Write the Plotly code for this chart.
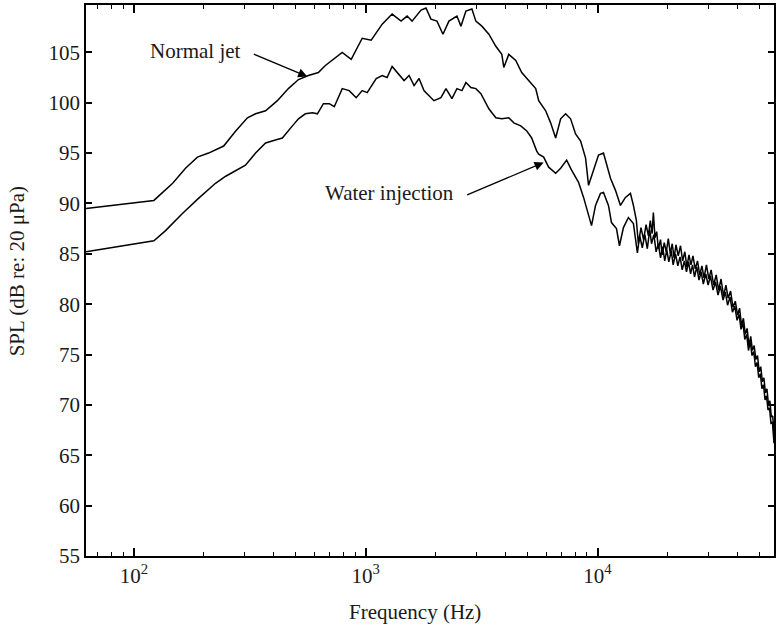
import plotly.graph_objects as go

# ---- data ----
normal_freq = [62.2, 122, 147, 167, 188, 210, 244, 275, 309, 335, 370, 416, 464, 513, 566, 625, 670,
               697, 739, 792, 866, 966, 1056, 1178, 1300, 1421, 1509, 1585, 1733, 1820, 1912, 2030,
               2154, 2286, 2475, 2575, 2706, 2872, 2987, 3170, 3399, 3642, 3865, 3943, 4142, 4440,
               4710, 5050, 5413, 5576, 5976, 6277, 6598, 6934, 7285, 7654, 8041, 8454, 8882, 9148,
               9612, 10100, 10612, 10932, 11375, 11953, 12558, 13194, 13870, 14285, 14714,
               15000, 15400, 15800, 16200, 16574, 16900, 17200, 17414, 17700, 18000, 18300, 18700,
               19000, 19400, 19800, 20200, 20606, 21000, 21400, 21800, 22300, 22800, 23300, 23800,
               24300, 24800, 25300, 25800, 26400, 27000, 27600, 28200, 28800, 29500, 30200, 30900,
               31700, 32500, 33300, 34100, 35000, 35800, 36600, 37500, 38400, 39300, 40200, 41000,
               41800, 42600, 43400, 44200, 45000, 45800, 46600, 47400, 48200, 49000, 49800, 50600,
               51400, 52200, 53000, 53800, 54600, 55400, 56200, 57000, 57720]
normal_spl = [89.5, 90.3, 92.0, 93.5, 94.6, 95.0, 95.7, 97.2, 98.5, 98.9, 99.2, 100.2, 101.4, 102.3,
              102.7, 103.0, 103.7, 104.0, 104.4, 105.0, 104.3, 106.4, 106.2, 107.8, 108.8, 108.1,
              108.6, 108.1, 109.2, 109.4, 108.3, 108.1, 106.8, 108.1, 108.6, 107.6, 109.1, 109.3,
              108.1, 107.6, 106.8, 105.6, 104.8, 103.5, 104.8, 104.2, 103.0, 102.2, 101.4, 100.2,
              99.2, 98.0, 96.5, 98.4, 98.9, 98.4, 96.9, 96.2, 94.5, 91.8, 93.3, 94.8, 95.0, 93.8,
              92.5, 91.3, 89.8, 90.6, 91.0, 89.8, 88.3,
              86.0, 87.6, 86.4, 87.9, 86.8, 88.3, 87.0, 89.1, 86.6, 87.2, 85.5, 86.4,
              84.9, 86.1, 85.2, 86.5, 85.0, 86.0, 84.6, 85.9, 84.8, 85.8, 84.3, 85.2,
              83.7, 84.9, 83.9, 84.8, 83.5, 84.3, 82.9, 83.8, 82.6, 83.9, 82.5, 83.4,
              81.9, 82.9, 81.4, 82.5, 80.8, 81.9, 80.6, 81.3, 79.7, 80.3, 78.9, 79.6,
              77.9, 78.6, 77.0, 77.6, 75.9, 76.8, 75.4, 75.9, 74.5, 74.9, 73.3, 73.8,
              72.3, 72.7, 71.2, 71.6, 70.1, 70.4, 68.8, 68.9, 67.2]

water_freq = [62.2, 122, 137, 162, 190, 225, 249, 275, 303, 335, 370, 408, 437, 483, 513, 549, 589,
              619, 657, 697, 732, 792, 849, 910, 966, 1015, 1110, 1178, 1237, 1300, 1366, 1464,
              1539, 1617, 1699, 1784, 1876, 1970, 2112, 2220, 2355, 2475, 2601, 2706, 2844, 2987,
              3140, 3233, 3399, 3642, 3865, 4142, 4353, 4665, 4950, 5200, 5467, 5576, 5858, 6156,
              6598, 6934, 7358, 7730, 8283, 8707, 9148, 9423, 9804, 10300, 10612, 11150, 11488,
              12072, 12434, 12936, 13590, 14285, 14860,
              15200, 15600, 16000, 16400, 16800, 17100, 17500, 17900, 18300, 18700, 19100, 19500,
              19900, 20300, 20800, 21200, 21700, 22200, 22700, 23200, 23700, 24200, 24700, 25200,
              25700, 26200, 26800, 27400, 28000, 28600, 29300, 30000, 30700, 31500, 32300, 33100,
              33900, 34800, 35600, 36400, 37300, 38200, 39100, 40000, 40800, 41600, 42400, 43200,
              44000, 44800, 45600, 46400, 47200, 48000, 48800, 49600, 50400, 51200, 52000, 52800,
              53600, 54400, 55200, 56000, 56800, 57720]
water_spl = [85.2, 86.3, 87.3, 89.0, 90.5, 92.0, 92.7, 93.3, 93.8, 95.0, 96.0, 96.3, 96.5, 97.7,
             98.4, 98.9, 99.0, 98.9, 99.9, 99.9, 99.6, 101.4, 101.2, 100.5, 101.2, 101.0, 102.4,
             102.7, 102.5, 103.6, 103.0, 102.2, 102.7, 101.7, 102.4, 101.2, 100.7, 100.2, 100.5,
             101.4, 100.4, 101.4, 101.2, 102.0, 101.5, 101.4, 100.9, 100.4, 99.4, 98.5, 98.4, 98.5,
             98.0, 97.7, 97.2, 96.5, 95.2, 94.9, 94.6, 93.6, 93.0, 93.5, 94.3, 93.3, 92.1, 90.6,
             88.8, 87.8, 89.8, 91.0, 91.1, 89.8, 88.1, 87.5, 85.8, 87.6, 88.6, 88.0, 85.1,
             86.8, 85.6, 86.9, 85.5, 87.4, 86.0, 86.9, 85.2, 86.0, 84.6, 85.7, 84.3,
             85.4, 84.2, 85.3, 83.9, 85.0, 83.8, 84.7, 83.4, 84.3, 83.2, 84.2, 83.0,
             83.9, 82.7, 83.7, 82.4, 83.2, 82.0, 83.0, 81.9, 82.8, 81.4, 82.2, 80.9,
             81.8, 80.4, 81.2, 79.9, 80.7, 79.2, 79.8, 78.4, 79.0, 77.5, 78.1, 76.5,
             77.0, 75.4, 76.3, 74.9, 75.3, 73.8, 74.2, 72.7, 73.1, 71.6, 72.0, 70.5,
             70.9, 69.5, 69.7, 68.2, 68.3, 66.2]

y_ticks = [55, 60, 65, 70, 75, 80, 85, 90, 95, 100, 105]
x_ticks = [100, 1000, 10000]
x_tick_text = ["10<sup>2</sup>", "10<sup>3</sup>", "10<sup>4</sup>"]
x_minor = [m * 10 ** k for k in (1, 2, 3, 4) for m in range(2, 10)]

FONT = "Liberation Serif"
INK = "#1a1a1a"

fig = go.Figure()
fig.add_trace(go.Scatter(x=normal_freq, y=normal_spl, mode="lines", name="Normal jet",
                         line=dict(color="black", width=1.5)))
fig.add_trace(go.Scatter(x=water_freq, y=water_spl, mode="lines", name="Water injection",
                         line=dict(color="black", width=1.5)))

axis_common = dict(showline=True, linecolor="black", linewidth=1.5, mirror="allticks",
                   ticks="inside", tickcolor="black", tickwidth=1.5, showgrid=False,
                   zeroline=False, tickfont=dict(family=FONT, size=21, color=INK))

fig.update_xaxes(type="log", range=[1.7935, 4.7613], tickmode="array", tickvals=x_ticks,
                 ticktext=x_tick_text, ticklen=8,
                 minor=dict(ticks="inside", ticklen=4, tickcolor="black", tickwidth=1.2,
                            tickvals=x_minor),
                 **axis_common)
fig.update_yaxes(range=[55, 109.7], tickmode="array", tickvals=y_ticks, ticklen=6, **axis_common)

annots = [
    dict(x=2.2667, y=105.15, xref="x", yref="y", text="Normal jet", showarrow=False,
         font=dict(family=FONT, size=21, color=INK)),
    dict(x=3.101, y=91.0, xref="x", yref="y", text="Water injection", showarrow=False,
         font=dict(family=FONT, size=21, color=INK)),
    dict(x=2.748, y=102.6, xref="x", yref="y", text="", showarrow=True, ax=-55, ay=-23,
         arrowhead=2, arrowsize=1.4, arrowwidth=1.3, arrowcolor="black"),
    dict(x=3.7677, y=94.06, xref="x", yref="y", text="", showarrow=True, ax=-78, ay=33,
         arrowhead=2, arrowsize=1.4, arrowwidth=1.3, arrowcolor="black"),
    dict(x=0.478, y=-0.1016, xref="paper", yref="paper", text="Frequency (Hz)",
         showarrow=False, yanchor="middle", xanchor="center",
         font=dict(family=FONT, size=21, color=INK)),
    dict(x=-0.1, y=0.517, xref="paper", yref="paper", text="SPL (dB re: 20 \u03bcPa)",
         showarrow=False, textangle=-90, yanchor="middle", xanchor="center",
         font=dict(family=FONT, size=21, color=INK)),
]

fig.update_layout(width=776, height=626, margin=dict(l=86, r=0, t=5, b=70),
                  paper_bgcolor="white", plot_bgcolor="white", showlegend=False,
                  annotations=annots)

fig.write_html("out.html", config={"displayModeBar": False},
               post_script="document.body.style.margin='0';document.body.style.overflow='hidden';")
